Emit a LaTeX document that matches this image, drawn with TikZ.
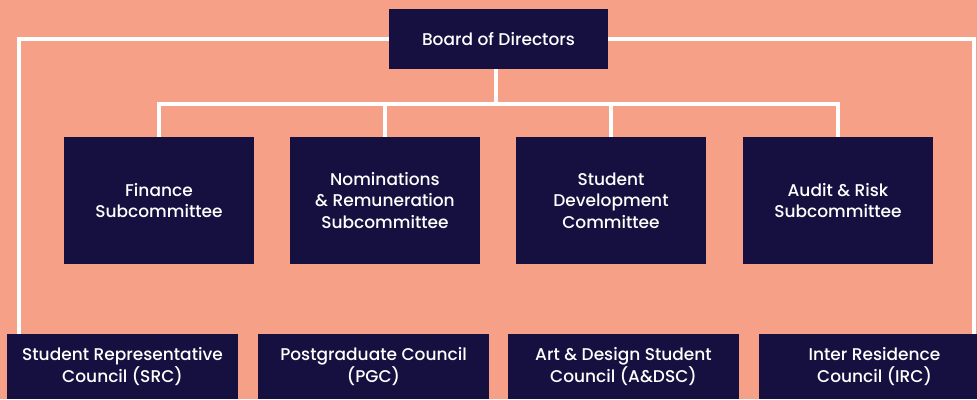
\documentclass[tikz,border=0pt]{standalone}
\usepackage{fontspec}
\setmainfont{Poppins}[UprightFont=* Medium]
\definecolor{navy}{RGB}{22,16,64}
\definecolor{salmon}{RGB}{247,160,136}
\tikzstyle{box}=[rectangle,fill=navy,text=white,align=center,inner sep=0pt,font=\fontsize{17}{21.5}\selectfont]
\tikzstyle{topbox}=[box,minimum width=219pt,minimum height=60pt]
\tikzstyle{midbox}=[box,minimum width=190pt,minimum height=127pt]
\tikzstyle{lowbox}=[box,minimum width=231pt,minimum height=65pt]
\tikzstyle{wire}=[draw,white,line width=4pt,line join=miter]
\begin{document}
\begin{tikzpicture}[x=1pt,y=-1pt]

    \fill[salmon] (0,0) rectangle (977,399);
    \useasboundingbox (0,0) rectangle (977,399);
    \clip (0,0) rectangle (977,399);

    \node[topbox] (board) at (498.5,39) {Board of Directors};

    % committees under the board
    \foreach \pos/ \name/ \txt in {{(159,200.5)/fin/{Finance\\Subcommittee}},
        {(385,200.5)/nom/{Nominations\\\& Remuneration\\Subcommittee}},
        {(611,200.5)/sdc/{Student\\Development\\Committee}},
        {(838,200.5)/aud/{Audit \& Risk\\Subcommittee}}}
        \node[midbox] (\name) at \pos {\txt};

    % councils along the bottom
    \foreach \pos/ \name/ \txt in {{(122.5,366.5)/src/{Student Representative\\Council (SRC)}},
        {(373.5,366.5)/pgc/{Postgraduate Council\\(PGC)}},
        {(623.5,366.5)/adsc/{Art \& Design Student\\Council (A\&DSC)}},
        {(874.5,366.5)/irc/{Inter Residence\\Council (IRC)}}}
        \node[lowbox] (\name) at \pos {\txt};

    \coordinate (lft) at (19,39);
    \coordinate (rgt) at (973.5,39);
    \coordinate (bus) at (496,103.5);

    % outer lines down to the councils
    \draw[wire] (board.west) -- (lft) -- (lft |- src.north);
    \draw[wire] (board.east) -- (rgt) -- (rgt |- irc.north);

    % branch to the committees
    \draw[wire] (bus |- board.south) -- (bus);
    \foreach \name in {fin,nom,sdc,aud}
        \draw[wire] (bus) -| (\name.north);

\end{tikzpicture}
\end{document}
